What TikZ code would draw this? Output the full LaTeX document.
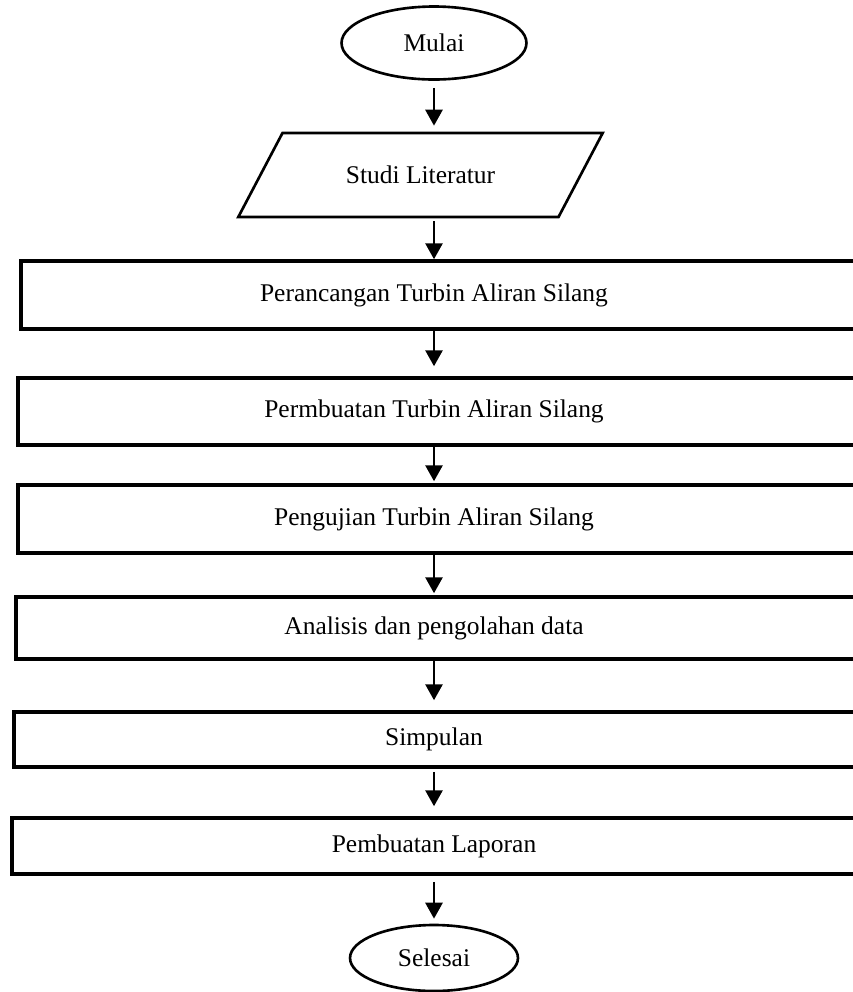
\documentclass[tikz,border=0pt]{standalone}
\usepackage{fontspec}
\setmainfont{Liberation Serif}
\usetikzlibrary{shapes.geometric, arrows.meta}

\begin{document}
\begin{tikzpicture}[x=0.02cm, y=-0.02cm, font=\fontsize{14.5}{17}\selectfont]
    % Gaya node
    \tikzstyle{terminal}=[ellipse, draw, line width=1.5pt, inner sep=0pt]
    \tikzstyle{data}=[trapezium, trapezium left angle=49, trapezium right angle=131, trapezium stretches=true, draw, line width=1.5pt, minimum width=7.3cm, minimum height=1.68cm]
    \tikzstyle{process}=[rectangle, draw, line width=2pt]
    \tikzstyle{arrow}=[-{Triangle[width=0.34cm, length=0.32cm]}, line width=1.6pt]
    \useasboundingbox (0,0) rectangle (853,992);
    \clip (0,0) rectangle (853,992);
    % Mulai dan studi literatur
    \node[terminal, minimum width=3.7cm, minimum height=1.46cm] (mulai) at (434,43) {Mulai};
    \node[data] (studi) at (420.5,175) {Studi Literatur};
    
    % Tahapan proses
    \node[process, minimum width=17.18cm, minimum height=1.36cm, label={[xshift=-0.33cm]center:Perancangan Turbin Aliran Silang}] (rancang) at (450.5,295) {};
    \node[process, minimum width=17.24cm, minimum height=1.34cm, label={[xshift=-0.30cm]center:Permbuatan Turbin Aliran Silang}] (buat) at (449,411.5) {};
    \node[process, minimum width=17.24cm, minimum height=1.36cm, label={[xshift=-0.30cm]center:Pengujian Turbin Aliran Silang}] (uji) at (449,519) {};
    \node[process, minimum width=17.28cm, minimum height=1.24cm, label={[xshift=-0.28cm]center:Analisis dan pengolahan data}] (analisis) at (448,628) {};
    \node[process, minimum width=17.32cm, minimum height=1.10cm, label={[xshift=-0.26cm]center:Simpulan}] (simpulan) at (447,739.5) {};
    \node[process, minimum width=17.36cm, minimum height=1.12cm, label={[xshift=-0.24cm]center:Pembuatan Laporan}] (laporan) at (446,846) {};
    
    % Selesai
    \node[terminal, minimum width=3.36cm, minimum height=1.32cm] (selesai) at (434,958) {Selesai};
    
    % Panah alur
    \draw[arrow, shorten <=0.14cm, shorten >=0.12cm] (mulai) -- (mulai |- studi.north);
    \draw[arrow, shorten <=0.06cm] (mulai |- studi.south) -- (mulai |- rancang.north);
    \draw[arrow, shorten >=0.2cm] (mulai |- rancang.south) -- (mulai |- buat.north);
    \draw[arrow, shorten >=0.04cm] (mulai |- buat.south) -- (mulai |- uji.north);
    \draw[arrow, shorten >=0.04cm] (mulai |- uji.south) -- (mulai |- analisis.north);
    \draw[arrow, shorten >=0.2cm] (mulai |- analisis.south) -- (mulai |- simpulan.north);
    \draw[arrow, shorten <=0.06cm, shorten >=0.2cm] (mulai |- simpulan.south) -- (mulai |- laporan.north);
    \draw[arrow, shorten <=0.12cm, shorten >=0.1cm] (mulai |- laporan.south) -- (selesai);
\end{tikzpicture}
\end{document}
